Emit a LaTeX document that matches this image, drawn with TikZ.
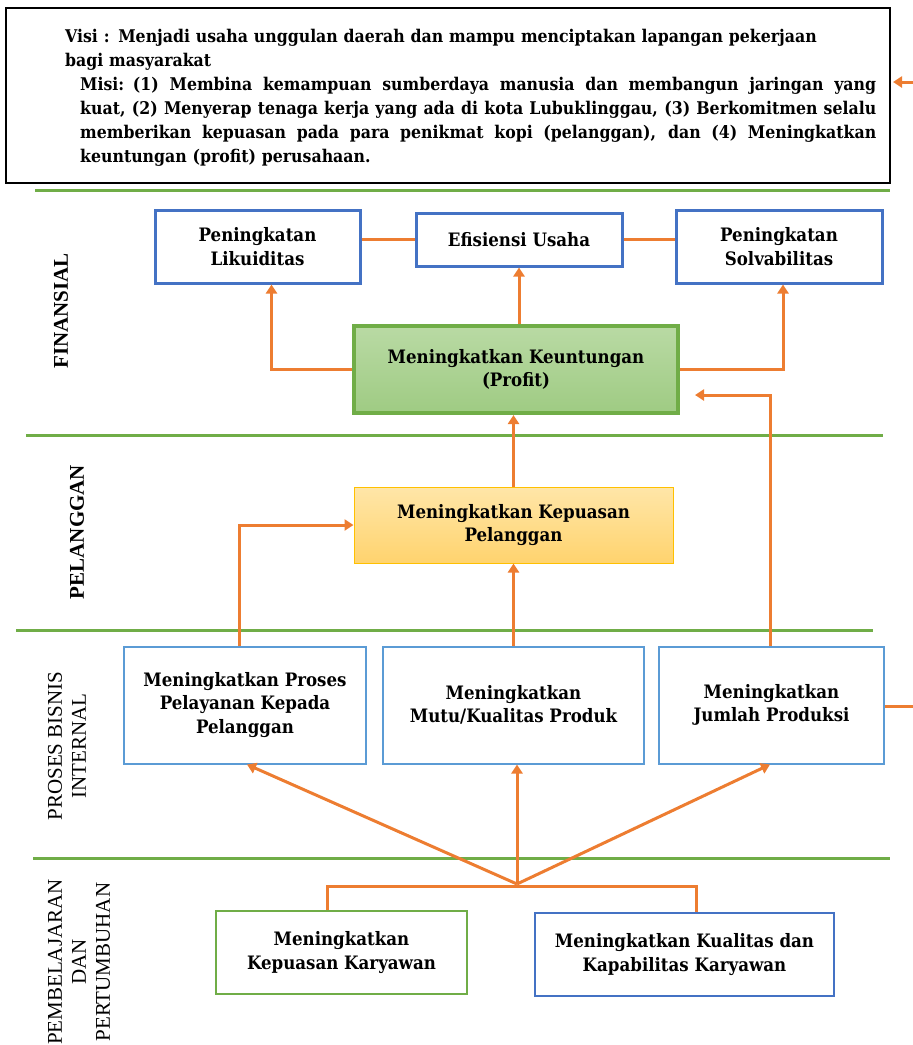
\documentclass[tikz,border=0pt]{standalone}
\usepackage{fontspec}
\setmainfont{Liberation Serif}
\newfontfamily\bk{DejaVu Serif Condensed}
\usetikzlibrary{arrows.meta}
\definecolor{org}{HTML}{ED7D31}
\definecolor{grn}{HTML}{70AD47}
\definecolor{blu}{HTML}{4472C4}
\definecolor{lblu}{HTML}{5B9BD5}
\definecolor{gold}{HTML}{FFC000}
\definecolor{gtop}{HTML}{B9DAA4}
\definecolor{gbot}{HTML}{9FCB83}
\definecolor{ytop}{HTML}{FFE6A8}
\definecolor{ybot}{HTML}{FFD36E}
\newcommand{\fullline}[1]{\makebox[796pt][s]{#1}\\}
\begin{document}
\begin{tikzpicture}[x=1pt,y=-1pt,
  btxt/.style={align=center,font=\bk\bfseries\fontsize{18.5}{23.5}\selectfont},
  finbox/.style={btxt,draw=blu,line width=3,fill=white},
  intbox/.style={btxt,draw=lblu,line width=2,fill=white},
  sepline/.style={grn,line width=3},
  oline/.style={org,line width=3},
  arr/.style={org,line width=3,-{Triangle[width=11pt,length=9pt]}},
  lab/.style={rotate=90,align=center,font=\fontsize{21}{24}\selectfont}]
\useasboundingbox (0,0) rectangle (913,1045);

% Vision / mission box
\node[draw=black,line width=2,minimum width=884,minimum height=175,inner sep=0] (vm) at (448,95.5) {};
\node[anchor=north west,inner sep=0,text width=811,align=left,
      font=\bk\bfseries\fontsize{17.5}{24}\selectfont] (vmtext) at (65,29)
  {Visi : Menjadi usaha unggulan daerah dan mampu menciptakan lapangan pekerjaan\\
   bagi masyarakat\\
   \hspace*{15pt}\fullline{\spaceskip=.3em plus 2em minus .05em Misi: (1) Membina kemampuan sumberdaya manusia dan membangun jaringan yang}
   \hspace*{15pt}\fullline{\spaceskip=.3em plus 2em minus .05em kuat, (2) Menyerap tenaga kerja yang ada di kota Lubuklinggau, (3) Berkomitmen selalu}
   \hspace*{15pt}\fullline{\spaceskip=.3em plus 2em minus .05em memberikan kepuasan pada para penikmat kopi (pelanggan), dan (4) Meningkatkan}
   \hspace*{15pt}keuntungan (profit) perusahaan.};

% separator lines
\draw[sepline] (35,190) -- (890,190);
\draw[sepline] (26,435) -- (883,435);
\draw[sepline] (16,630) -- (873,630);
\draw[sepline] (33,858) -- (890,858);

% perspective labels
\node[lab,font=\bfseries\fontsize{21}{24}\selectfont] (lfin) at (61,311) {FINANSIAL};
\node[lab,font=\bfseries\fontsize{21}{24}\selectfont] (lpel) at (77,532) {PELANGGAN};
\node[lab] (lint) at (67,746) {PROSES BISNIS\\INTERNAL};
\node[lab] (lbel) at (79,962) {PEMBELAJARAN\\DAN\\PERTUMBUHAN};

% financial
\node[finbox,minimum width=205,minimum height=73] (likuid) at (257.5,246.5) {Peningkatan\\Likuiditas};
\node[finbox,minimum width=206,minimum height=53] (efis) at (519,239.5) {Efisiensi Usaha};
\node[finbox,minimum width=206,minimum height=73] (solv) at (779,246.5) {Peningkatan\\Solvabilitas};
\node[btxt,draw=grn,line width=4,top color=gtop,bottom color=gbot,minimum width=324,minimum height=87] (profit) at (516,369.5) {Meningkatkan Keuntungan\\(Profit)};

% customer
\node[btxt,draw=gold,line width=1,top color=ytop,bottom color=ybot,minimum width=319,minimum height=76] (kpel) at (513.5,525) {Meningkatkan Kepuasan\\Pelanggan};

% internal
\node[intbox,minimum width=242,minimum height=117] (layan) at (245,705) {Meningkatkan Proses\\Pelayanan Kepada\\Pelanggan};
\node[intbox,minimum width=261,minimum height=117] (mutu) at (513.5,705) {Meningkatkan\\Mutu/Kualitas Produk};
\node[intbox,minimum width=225,minimum height=117] (jumlah) at (771.5,705) {Meningkatkan\\Jumlah Produksi};

% learning
\node[btxt,draw=grn,line width=2,fill=white,minimum width=251,minimum height=83] (kkar) at (341.5,952.5) {Meningkatkan\\Kepuasan Karyawan};
\node[btxt,draw=blu,line width=2,fill=white,minimum width=299,minimum height=83] (qkar) at (684.5,954.5) {Meningkatkan Kualitas dan\\Kapabilitas Karyawan};

% free ends and junctions
\coordinate (inR) at (913,82);
\coordinate (outR) at (913,706);
\coordinate (hub) at (517,884);
\coordinate (barL) at (327,886);
\coordinate (barR) at (696,886);

% connectors
\draw[arr] (inR) -- ([xshift=2]inR -| vm.east);
\draw[oline] (likuid.east |- efis.west) -- (efis.west);
\draw[oline] (efis.east) -- (solv.west |- efis.east);
\draw[arr] (profit.north -| efis.south) -- (efis.south);
\draw[arr] (profit.west) -| ([xshift=14]likuid.south);
\draw[arr] (profit.east) -| ([xshift=4]solv.south);
\draw[arr] (kpel.north) -- (kpel.north |- profit.south);
\draw[arr] ([xshift=-6]layan.north) |- (kpel.west);
\draw[arr] (mutu.north) -- (kpel.south);
\draw[arr,shorten >=15pt] ([xshift=-1.5]jumlah.north) |- ([yshift=-25.5]profit.east);
\draw[oline] (jumlah.east |- outR) -- (outR);
\draw[oline] (barL |- kkar.north) -- (barL) -- (barR) -- (barR |- qkar.north);
\draw[arr] (hub) -- ([xshift=2]layan.south);
\draw[arr] (hub) -- (hub |- mutu.south);
\draw[arr] (hub) -- ([xshift=-1.5]jumlah.south);
\end{tikzpicture}
\end{document}
